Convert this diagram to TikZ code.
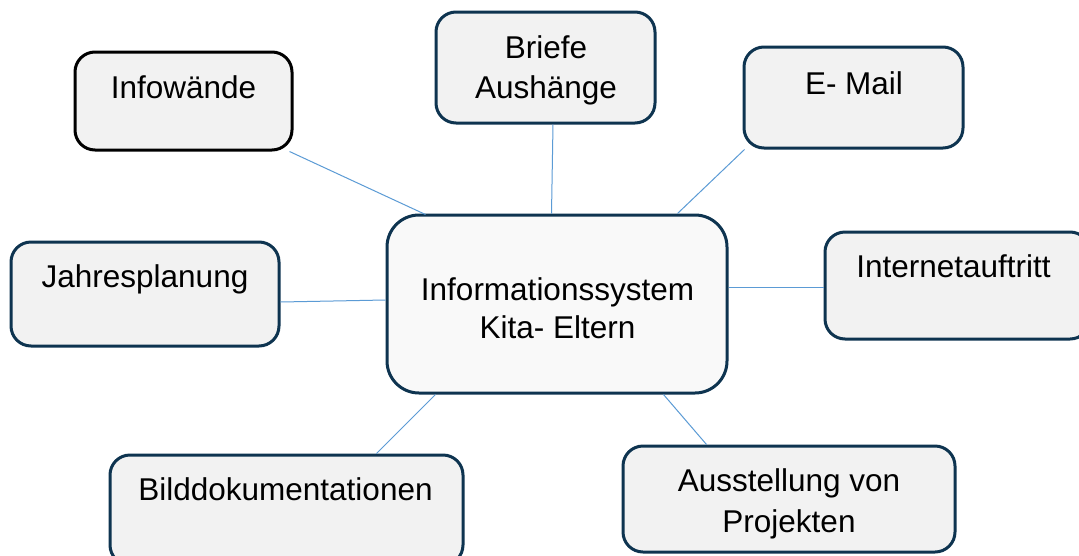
\documentclass[tikz,border=0pt]{standalone}
\usepackage{fontspec}
\setmainfont{Liberation Sans}
\usetikzlibrary{calc}
\definecolor{navy}{HTML}{0E3450}
\definecolor{boxfill}{HTML}{F2F2F2}
\definecolor{centerfill}{HTML}{F9F9F9}
\definecolor{link}{HTML}{5B9BD5}
\tikzset{
  box/.style={draw=navy, line width=3pt, fill=boxfill, rounded corners=20pt, rectangle, inner sep=0pt},
  centerbox/.style={box, fill=centerfill, rounded corners=32pt},
  lbl/.style={anchor=base, inner sep=0pt, font=\fontsize{31.5}{38}\selectfont},
  link/.style={draw=link, line width=1pt}
}
\begin{document}
\begin{tikzpicture}[x=1pt,y=-1pt]
\useasboundingbox (0,0) rectangle (1079,555);
\clip (0,0) rectangle (1079,555);
\fill[white] (0,0) rectangle (1079,555);
% boxes
\node[centerbox, minimum width=340pt, minimum height=178pt] (central) at (557,304) {};
\node[box, draw=black, minimum width=217pt, minimum height=98pt] (info) at (183.5,101) {};
\node[box, minimum width=219pt, minimum height=111pt] (briefe) at (545.5,67.5) {};
\node[box, minimum width=219pt, minimum height=101pt] (email) at (853.5,97.5) {};
\node[box, minimum width=268pt, minimum height=104pt] (jahr) at (145,294) {};
\node[box, minimum width=265pt, minimum height=107pt] (internet) at (957.5,285.5) {};
\node[box, minimum width=353pt, minimum height=110pt] (bild) at (286.5,510) {};
\node[box, minimum width=332pt, minimum height=106pt] (aus) at (789,499) {};
% connectors
\draw[link] ($(info.south east)+(-4,0)$) -- ($(central.north west)+(40,1)$);
\draw[link] ($(briefe.south)+(7.5,0)$) -- ($(central.north west)+(166,0)$);
\draw[link] ($(email.south west)+(2,0)$) -- ($(central.north east)+(-51,0)$);
\draw[link] ($(jahr.east)+(0,8)$) -- ($(central.west)+(0,-4)$);
\draw[link] ($(central.east)+(0,-17)$) -- ($(internet.west)+(0,1.5)$);
\draw[link] ($(bild.north west)+(268,0)$) -- ($(central.south west)+(50,0)$);
\draw[link] ($(aus.north west)+(85,0)$) -- ($(central.south east)+(-65,0)$);
% labels
\node[lbl] (tc1) at (557.5,300) {Informationssystem};
\node[lbl] (tc2) at (557.5,338) {Kita- Eltern};
\node[lbl] (ti) at (183.5,98) {Infowände};
\node[lbl] (tb1) at (546,58) {Briefe};
\node[lbl] (tb2) at (546,98) {Aushänge};
\node[lbl] (te) at (854,94) {E- Mail};
\node[lbl] (tj) at (145,287) {Jahresplanung};
\node[lbl] (tn) at (953.5,277) {Internetauftritt};
\node[lbl] (tbd) at (285.5,500) {Bilddokumentationen};
\node[lbl] (ta1) at (789,491) {Ausstellung von};
\node[lbl] (ta2) at (789,532) {Projekten};
\end{tikzpicture}
\end{document}
